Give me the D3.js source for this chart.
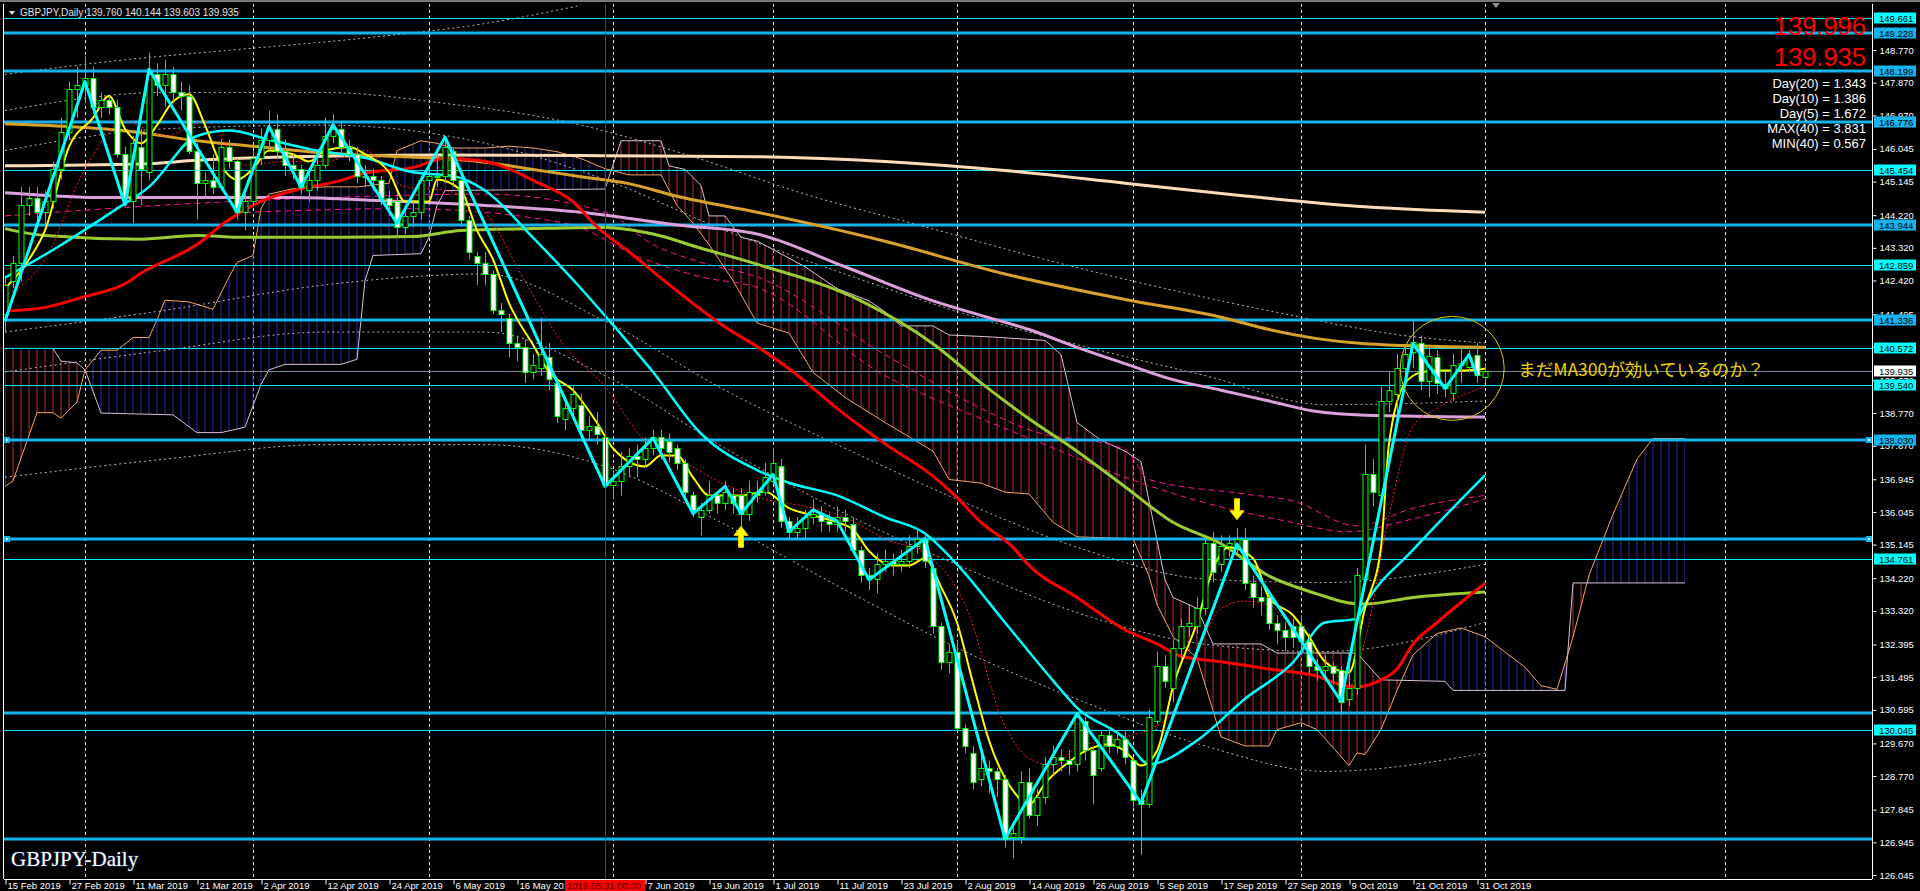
<!DOCTYPE html>
<html><head><meta charset="utf-8">
<script src="https://cdnjs.cloudflare.com/ajax/libs/d3/7.8.5/d3.min.js"></script>
<style>html,body{margin:0;padding:0;background:#000;overflow:hidden}</style>
</head><body>
<svg id="chart" width="1920" height="891"></svg>
<script>
// ---------- DATA ----------
const dateLabels = ["15 Feb 2019","27 Feb 2019","11 Mar 2019","21 Mar 2019","2 Apr 2019","12 Apr 2019","24 Apr 2019","6 May 2019","16 May 2019","28 May 2019","7 Jun 2019","19 Jun 2019","1 Jul 2019","11 Jul 2019","23 Jul 2019","2 Aug 2019","14 Aug 2019","26 Aug 2019","5 Sep 2019","17 Sep 2019","27 Sep 2019","9 Oct 2019","21 Oct 2019","31 Oct 2019"];
const dateTickBars = [0,8,16,24,32,40,48,56,64,72,80,88,96,104,112,120,128,136,144,152,160,168,176,184];
const monthGridBars = [10,31,53,76,96,119,141,162,185,215];
const markerBar = 75, markerLabel = "2019.05.31 00:00";
const priceTicks = [148.770,147.870,146.970,146.045,145.145,144.220,143.320,142.420,141.495,140.595,139.670,138.770,137.870,136.945,136.045,135.145,134.220,133.320,132.395,131.495,130.595,129.670,128.770,127.845,126.945,126.045];
const levelsThick = [149.228,148.199,146.776,143.944,141.336,138.030,135.29,130.52,127.05];
const levelsThickLabelled = [149.228,148.199,146.776,143.944,141.336,138.030];
const levelsThin = [149.661,145.454,142.859,140.572,139.540,134.761,130.045];
const selectedLevels = [138.030,135.29];
const lastPrice = 139.935;
const headerText = "GBPJPY,Daily";
const headerOHLC = "139.760 140.144 139.603 139.935";
const bigPrices = ["139.996","139.935"];
const statLines = ["Day(20) = 1.343","Day(10) = 1.386","Day(5) = 1.672","MAX(40) = 3.831","MIN(40) = 0.567"];
const noteText = "まだMA300が効いているのか？";

// OHLC per daily bar (bar 0 = 15 Feb 2019 ... bar 185 = 1 Nov 2019)
const ohlc = [
[141.5,142.5,141.0,142.3],[142.4,143.1,142.2,142.9],[142.9,145.0,142.4,144.5],[144.5,145.0,144.2,144.7],[144.7,145.0,144.0,144.3],
[144.3,144.9,143.9,144.6],[144.6,145.7,144.4,145.5],[145.5,146.9,145.2,146.5],[146.5,147.9,146.3,147.7],[147.7,148.3,146.9,147.8],
[147.8,148.6,147.3,148.0],[148.0,148.3,147.0,147.2],[147.2,147.6,146.9,147.4],[147.4,147.5,147.0,147.2],[147.2,147.4,145.8,145.9],
[145.9,146.1,144.5,144.7],[144.6,146.4,144.0,146.2],[146.1,146.6,144.5,145.5],[145.4,148.7,145.2,148.1],[148.1,148.4,147.5,147.8],
[147.8,148.5,147.2,148.1],[148.1,148.3,147.3,147.6],[147.6,147.9,147.1,147.5],[147.5,147.8,145.9,146.0],[146.0,146.2,144.1,145.1],
[145.1,145.4,144.7,145.2],[145.2,145.9,144.8,145.0],[145.0,146.3,144.9,146.1],[146.1,146.3,145.5,145.7],[145.7,145.8,144.1,144.3],
[144.3,144.8,143.8,144.6],[144.6,146.0,144.5,145.8],[145.8,146.6,145.6,146.3],[146.3,147.1,146.0,146.6],[146.6,147.0,145.8,146.0],
[146.0,146.3,145.3,145.6],[145.6,145.9,145.2,145.5],[145.5,145.6,144.8,145.0],[144.9,145.4,144.6,145.2],[145.2,145.9,144.9,145.6],
[145.6,146.9,145.5,146.4],[146.4,147.0,146.2,146.6],[146.6,146.8,145.9,146.1],[146.1,146.3,145.7,145.9],[145.9,146.1,145.1,145.3],
[145.3,145.6,145.0,145.3],[145.3,145.5,144.9,145.2],[145.2,145.3,144.5,144.7],[144.7,144.9,144.2,144.5],[144.6,144.8,143.6,143.9],
[143.9,144.5,143.7,144.2],[144.2,144.6,143.9,144.3],[144.3,145.3,144.1,145.2],[145.2,145.6,145.0,145.3],[145.3,145.9,145.0,145.3],
[145.3,146.4,145.1,146.1],[146.0,146.1,145.0,145.2],[145.2,145.3,143.9,144.1],[144.1,144.2,143.0,143.2],[143.1,143.2,142.3,142.9],
[142.9,143.2,142.3,142.6],[142.6,142.7,141.5,141.6],[141.6,141.8,141.0,141.5],[141.4,141.5,140.3,140.7],[140.7,140.9,140.2,140.6],
[140.6,140.8,139.6,139.9],[139.9,140.4,139.7,140.1],[140.0,141.4,139.8,140.4],[140.3,140.7,139.4,139.7],[139.6,139.7,138.5,138.7],
[138.6,139.1,138.3,138.9],[138.9,139.5,138.6,139.3],[139.0,139.3,138.1,138.3],[138.3,138.7,138.0,138.4],[138.4,138.8,137.9,138.2],
[138.1,138.2,136.6,136.8],[136.8,137.2,136.4,136.9],[136.9,137.7,136.5,137.3],[137.3,137.8,137.0,137.6],[137.6,137.9,137.0,137.5],
[137.5,138.1,137.3,137.8],[137.8,138.3,137.6,138.1],[138.1,138.3,137.5,137.8],[138.0,138.2,137.4,137.7],[137.8,137.9,137.2,137.4],
[137.4,137.5,136.4,136.6],[136.5,136.6,135.9,136.1],[135.9,136.3,135.4,136.1],[136.1,136.9,136.0,136.5],[136.5,136.6,136.0,136.3],
[136.3,136.9,136.1,136.6],[136.5,136.7,136.0,136.3],[136.5,136.7,135.5,136.0],[136.0,136.9,135.8,136.6],[136.6,136.9,136.3,136.5],
[136.6,137.4,136.5,137.0],[136.9,137.8,136.8,137.4],[137.3,137.5,135.6,135.8],[135.8,135.9,135.3,135.5],[135.5,135.9,135.3,135.6],
[135.6,136.1,135.3,135.9],[135.9,136.4,135.7,136.0],[136.0,136.2,135.5,135.8],[135.8,136.0,135.5,135.7],[135.7,136.2,135.5,135.9],
[135.9,136.1,135.5,135.8],[135.7,135.9,134.9,135.0],[135.0,135.1,134.1,134.3],[134.3,134.5,133.9,134.2],[134.2,134.9,133.8,134.6],
[134.6,135.0,134.4,134.7],[134.7,134.9,134.3,134.6],[134.6,135.0,134.4,134.7],[134.7,135.4,134.5,135.1],[135.1,135.6,134.9,135.3],
[135.3,135.5,134.5,134.7],[134.5,134.6,132.7,132.9],[132.9,133.0,131.7,131.9],[131.9,132.4,131.6,132.2],[132.2,132.5,130.0,130.1],
[130.1,130.2,129.4,129.6],[129.4,129.6,128.4,128.6],[128.7,129.4,128.5,129.0],[129.0,129.2,128.3,128.9],[128.9,129.0,128.2,128.7],
[128.7,128.8,126.8,127.05],[127.1,127.5,126.5,127.2],[127.1,128.9,126.9,128.6],[128.6,129.0,127.6,127.7],[127.7,128.4,127.4,128.2],
[128.2,129.3,128.0,129.1],[129.1,129.6,128.8,129.3],[129.3,129.5,128.9,129.2],[129.2,129.5,128.8,129.1],[129.1,130.5,128.9,130.4],
[130.3,130.4,129.2,129.5],[129.5,129.6,128.0,128.8],[129.0,130.0,128.9,129.9],[129.9,130.1,129.4,129.6],[129.6,130.0,129.4,129.8],
[129.8,130.0,129.1,129.3],[129.2,129.3,127.9,128.1],[128.1,128.4,126.6,128.0],[128.0,130.6,127.9,130.4],[130.3,132.2,130.2,131.8],
[131.8,132.1,131.2,131.4],[131.2,132.5,130.8,132.3],[132.3,133.1,132.0,132.9],[132.9,133.5,132.6,133.0],[132.9,133.7,132.7,133.4],
[133.4,135.3,133.2,135.2],[135.2,135.5,134.1,134.4],[134.6,135.4,134.4,135.1],[135.1,135.4,134.8,135.2],[135.1,135.6,134.9,135.3],
[135.3,135.6,133.9,134.1],[134.1,134.3,133.4,133.7],[133.7,134.0,133.2,133.6],[133.7,133.9,132.8,133.0],[133.0,133.2,132.4,132.8],
[132.8,133.0,132.2,132.6],[132.9,133.1,132.3,132.6],[132.9,133.2,132.1,132.5],[132.5,132.7,131.6,131.8],[131.8,132.0,131.4,131.7],
[131.7,132.1,131.4,131.8],[131.8,131.9,131.3,131.6],[131.7,131.8,130.45,130.8],[130.9,132.1,130.7,131.2],[131.2,134.5,131.0,134.3],
[134.2,137.9,134.0,137.1],[137.1,137.5,136.2,136.6],[136.5,139.5,136.3,139.1],[139.1,139.9,138.8,139.4],[139.3,140.4,138.6,140.0],
[140.0,140.6,139.7,140.4],[140.45,141.33,140.0,140.73],[140.7,140.9,139.4,139.65],[139.65,140.6,139.2,140.35],[140.3,140.5,139.3,139.6],
[139.56,139.9,139.2,139.45],[139.33,140.4,139.1,140.1],[140.1,140.6,139.6,140.15],[140.05,140.5,139.9,140.3],[140.37,140.7,139.6,139.82],
[139.76,140.144,139.603,139.935]
];

// indicator lines: [bar, price]
const maCyan = [[0,142.5],[7,143.4],[14,144.4],[18,145.0],[24,146.4],[28,146.55],[33,146.3],[39,146.0],[45,145.8],[51,145.4],[56,145.3],[60,144.9],[66,143.6],[72,142.2],[75,141.45],[81,139.9],[87,138.2],[94,137.2],[98,136.85],[104,136.5],[110,135.9],[115,135.45],[119,134.6],[125,133.0],[131,131.4],[134,130.65],[140,129.8],[143,129.1],[149,129.75],[155,130.9],[161,131.9],[165,133.0],[169,133.1],[170,133.5],[176,135.0],[185,137.05]];
const maYellow = [[0,142.2],[3,143.0],[5,143.8],[8,146.1],[11,146.9],[13,147.5],[15,146.6],[17,146.2],[19,146.7],[21,147.35],[23,147.55],[25,146.7],[27,145.6],[29,145.2],[31,145.5],[33,146.0],[36,145.9],[38,145.7],[40,146.0],[43,146.1],[45,145.9],[48,145.4],[50,144.6],[53,144.6],[54,145.2],[57,144.9],[59,143.8],[61,143.0],[63,141.8],[66,140.65],[68,139.9],[71,139.4],[74,138.5],[76,137.8],[80,137.3],[82,137.6],[84,137.6],[86,137.0],[88,136.5],[92,136.5],[95,136.6],[98,136.15],[101,135.95],[104,135.76],[106,135.56],[108,134.97],[111,134.57],[113,134.57],[115,134.77],[117,133.98],[119,133.0],[121,131.33],[123,129.75],[126,128.37],[128,127.98],[130,128.57],[133,129.16],[135,129.46],[138,129.65],[140,129.46],[142,129.06],[144,129.46],[146,131.23],[149,133.0],[151,134.48],[153,135.07],[156,134.77],[158,133.69],[161,133.2],[163,132.61],[165,131.92],[168,131.62],[170,133.39],[172,135.07],[173,137.92],[175,139.59],[177,139.89],[179,139.94],[182,139.94],[185,139.99]];
const maRed = [[0,141.58],[5,141.68],[10,141.98],[15,142.33],[17,142.62],[24,143.41],[28,144.1],[33,144.69],[36,144.89],[42,145.18],[45,145.38],[51,145.53],[55,145.78],[59,145.73],[62,145.58],[66,145.18],[71,144.59],[74,143.9],[78,143.21],[84,142.13],[90,141.14],[94,140.6],[98,139.99],[104,138.9],[110,137.92],[116,137.03],[119,136.44],[122,135.76],[126,135.07],[128,134.57],[134,133.69],[140,132.8],[144,132.41],[147,132.07],[152,131.92],[158,131.72],[164,131.52],[167,131.28],[169,131.23],[172,131.42],[174,131.72],[176,132.41],[179,133.0],[185,134.08]];
const maOrange = [[0,146.74],[8,146.66],[16,146.52],[24,146.27],[31,146.12],[38,145.97],[45,145.87],[53,145.8],[60,145.68],[66,145.48],[72,145.28],[78,145.09],[84,144.74],[94,144.3],[110,143.5],[125,142.6],[140,141.9],[152,141.41],[158,141.07],[164,140.82],[170,140.68],[185,140.58]];
const maPeach = [[0,145.58],[17,145.63],[24,145.73],[36,145.83],[54,145.88],[75,145.86],[94,145.83],[110,145.7],[125,145.45],[140,145.1],[155,144.75],[170,144.45],[185,144.3]];
const maPlum = [[0,144.84],[12,144.71],[24,144.71],[36,144.71],[48,144.61],[60,144.49],[72,144.3],[84,143.95],[94,143.7],[105,142.8],[116,141.86],[122,141.46],[128,141.07],[134,140.58],[140,140.13],[146,139.69],[152,139.4],[158,139.1],[164,138.81],[170,138.71],[185,138.66]];
const maYellowGreen = [[0,143.85],[5,143.66],[17,143.56],[24,143.66],[30,143.61],[42,143.61],[51,143.63],[57,143.8],[66,143.85],[75,143.88],[81,143.7],[87,143.31],[94,142.87],[107,141.86],[116,140.68],[122,139.6],[128,138.61],[134,137.72],[140,136.74],[146,135.76],[152,135.17],[158,134.28],[164,133.79],[168,133.54],[170,133.51],[176,133.69],[185,133.84]];
const zigzag = [[0,141.3],[10,147.9],[15,144.5],[18,148.24],[29,144.3],[33,146.66],[37,144.99],[41,146.71],[49,144.0],[55,146.37],[75,136.75],[81,138.08],[86,136.0],[90,136.75],[92,136.0],[96,137.08],[98,135.5],[101,136.1],[104,135.8],[108,134.18],[115,135.31],[125,127.04],[134,130.49],[142,128.03],[154,135.16],[167,130.83],[176,140.68],[180,139.45],[183,140.38],[184,139.79]];
const redDotted = [[0,142.0],[5,143.0],[10,145.5],[15,146.8],[20,146.4],[25,146.8],[30,145.6],[35,145.7],[40,145.7],[45,146.0],[50,145.0],[55,144.9],[60,144.3],[65,142.4],[70,140.6],[75,139.5],[80,138.0],[85,137.4],[90,136.8],[95,136.4],[100,136.2],[105,135.9],[110,135.3],[115,134.9],[120,133.5],[125,130.15],[128,129.26],[131,129.06],[134,129.55],[140,129.85],[143,130.05],[146,130.54],[150,132.7],[152,133.39],[155,133.59],[158,133.49],[162,132.51],[165,132.0],[168,131.23],[170,132.51],[173,135.95],[176,138.41],[179,138.9],[185,139.5]];
const pinkDash1 = [[0,144.2],[20,144.5],[40,144.7],[60,144.8],[75,144.3],[81,143.41],[87,142.92],[94,142.52],[110,140.38],[122,138.9],[128,138.31],[140,137.77],[143,136.94],[155,136.54],[161,136.35],[169,135.66],[176,136.15],[185,136.5]];
const pinkDash2 = [[30,144.3],[50,144.4],[70,144.0],[80,143.0],[87,142.52],[94,142.23],[110,139.8],[120,138.8],[130,137.9],[140,137.0],[150,136.3],[160,135.8],[168,135.5],[175,135.8],[185,136.4]];
const bandU3 = [[0,148.1],[15,148.5],[30,148.8],[45,149.1],[60,149.5],[72,150.0]];
const bandU2 = [[0,147.1],[20,147.6],[40,147.6],[55,147.3],[70,146.8],[85,145.9],[100,144.8],[115,143.9],[130,143.0],[145,142.2],[160,141.5],[175,140.9],[185,140.7]];
const bandU1 = [[0,146.0],[20,146.6],[40,146.7],[60,146.2],[75,145.2],[90,143.8],[105,142.6],[120,141.5],[135,140.6],[150,139.8],[165,139.0],[185,139.1]];
const bandL1 = [[0,141.0],[20,141.6],[40,142.3],[60,142.6],[75,141.3],[90,139.4],[105,137.8],[120,136.3],[135,135.0],[150,134.2],[165,134.1],[185,134.6]];
const bandL2 = [[0,139.9],[20,140.5],[40,141.0],[60,141.0],[75,139.8],[90,137.8],[105,136.0],[120,134.5],[135,133.2],[150,132.4],[165,132.2],[185,133.0]];
const bandL3 = [[0,137.0],[20,137.5],[40,137.9],[60,137.9],[75,137.3],[90,135.7],[105,133.9],[120,132.2],[135,130.8],[150,129.6],[165,128.9],[185,129.4]];
const spanA = [[0,136.75],[1,136.9],[4,138.78],[6,138.78],[7,138.63],[9,139.07],[10,139.96],[12,140.5],[14,140.5],[16,140.85],[18,140.85],[19,141.34],[20,141.88],[23,141.83],[26,141.63],[28,142.52],[29,142.92],[31,143.11],[32,144.4],[33,144.8],[36,144.95],[40,145.0],[44,145.0],[48,145.1],[49,146.0],[52,146.27],[54,146.2],[56,146.07],[60,146.07],[63,146.12],[66,146.07],[69,145.97],[72,145.78],[75,145.5],[78,145.33],[82,145.33],[84,144.49],[86,144.0],[88,143.41],[91,142.42],[94,141.25],[98,140.97],[101,139.89],[105,139.2],[110,138.51],[116,137.72],[118,136.94],[122,136.84],[125,136.59],[128,136.54],[131,135.76],[134,135.36],[141,135.31],[143,134.28],[144,133.49],[146,132.61],[149,132.02],[152,129.85],[155,129.6],[158,129.6],[159,130.05],[162,130.24],[164,130.05],[168,129.06],[169,129.41],[170,129.36],[172,130.05],[174,131.13],[176,132.11],[179,132.7],[182,132.85],[185,132.61],[187,132.27],[190,131.77],[192,131.26],[194,131.16],[196,132.6],[198,134.3],[201,135.98],[204,137.5],[206,138.07],[210,138.07]];
const spanB = [[0,140.55],[6,140.55],[7,140.2],[9,140.15],[10,139.96],[12,138.77],[21,138.72],[24,138.23],[27,138.23],[30,138.38],[32,139.56],[33,139.96],[35,140.11],[42,140.11],[44,140.25],[45,142.42],[46,143.11],[52,143.16],[53,143.61],[54,144.49],[55,144.9],[75,144.94],[76,145.6],[77,146.27],[82,146.27],[83,145.58],[85,145.48],[87,145.04],[88,144.2],[90,144.2],[92,143.61],[94,143.51],[100,142.8],[104,142.2],[108,141.86],[110,141.56],[112,141.17],[116,141.17],[118,140.92],[123,140.87],[130,140.77],[132,140.38],[134,138.51],[137,138.02],[140,137.72],[142,137.43],[143,136.35],[145,134.18],[146,133.69],[149,133.39],[151,132.41],[157,132.41],[159,132.16],[169,132.16],[172,131.42],[180,131.38],[181,131.13],[195,131.13],[196,134.09],[210,134.09]];
const arrowsUp = [[92,135.65]];
const arrowsDown = [[154,135.83]];
const noteCircle = [180.9,140.0];

// ---------- LAYOUT ----------
const L=4,R=1872,T=4,B=879;
const svg = d3.select('#chart');
const x = d3.scaleLinear().domain([0,185]).range([5,1485]);
const y = d3.scaleLinear().domain([126.045,148.770]).range([875,50]);
const FONT = "'Liberation Sans', Arial, sans-serif";
const defs = svg.append('defs');
defs.append('clipPath').attr('id','plot').append('rect').attr('x',L).attr('y',T).attr('width',R-L).attr('height',B-T);
function hatch(id,color){
  const p=defs.append('pattern').attr('id',id).attr('patternUnits','userSpaceOnUse').attr('width',8).attr('height',8).attr('x',x(0)-0.5).attr('y',0);
  p.append('line').attr('x1',0.5).attr('x2',0.5).attr('y1',0).attr('y2',8).attr('stroke',color).attr('stroke-width',1);
}
hatch('hBlue','#2b2ba8'); hatch('hRed','#b03030');

svg.append('rect').attr('width',1920).attr('height',891).attr('fill','#000');
svg.append('rect').attr('x',0).attr('y',0).attr('width',1920).attr('height',2).attr('fill','#7a7a7a');
const g = svg.append('g').attr('clip-path','url(#plot)');

// grid
g.selectAll('.vg').data(monthGridBars).join('line')
 .attr('x1',d=>Math.round(x(d))+0.5).attr('x2',d=>Math.round(x(d))+0.5).attr('y1',T).attr('y2',B)
 .attr('stroke','#e8e8e8').attr('stroke-dasharray','3,3').attr('stroke-width',1);

// ichimoku cloud
const lineG = d3.line().x(d=>x(d[0])).y(d=>y(d[1]));
const areaDown = d3.area().x(d=>x(d[0])).y0(B).y1(d=>y(d[1]));
const areaUp = d3.area().x(d=>x(d[0])).y0(T).y1(d=>y(d[1]));
defs.append('clipPath').attr('id','aboveB').append('path').attr('d',areaUp(spanB));
defs.append('clipPath').attr('id','aboveA').append('path').attr('d',areaUp(spanA));
g.append('g').attr('clip-path','url(#aboveB)').append('path').attr('d',areaDown(spanA)).attr('fill','url(#hBlue)');
g.append('g').attr('clip-path','url(#aboveA)').append('path').attr('d',areaDown(spanB)).attr('fill','url(#hRed)');
g.append('path').attr('d',lineG(spanA)).attr('fill','none').attr('stroke','#f4a460').attr('stroke-width',1);
g.append('path').attr('d',lineG(spanB)).attr('fill','none').attr('stroke','#d8bfd8').attr('stroke-width',1);

// bands
[bandU3,bandU2,bandU1,bandL1,bandL2,bandL3].forEach(b=>{
  g.append('path').attr('d',d3.line().x(d=>x(d[0])).y(d=>y(d[1])).curve(d3.curveMonotoneX)(b))
   .attr('fill','none').attr('stroke','#b8b8b8').attr('stroke-width',1).attr('stroke-dasharray','2,3');
});
[pinkDash1,pinkDash2].forEach(b=>{
  g.append('path').attr('d',d3.line().x(d=>x(d[0])).y(d=>y(d[1])).curve(d3.curveMonotoneX)(b))
   .attr('fill','none').attr('stroke','#ff1493').attr('stroke-width',1).attr('stroke-dasharray','6,4');
});

// level lines
g.selectAll('.lt').data(levelsThin).join('line').attr('x1',L).attr('x2',R)
 .attr('y1',d=>Math.round(y(d))+0.5).attr('y2',d=>Math.round(y(d))+0.5).attr('stroke','#00e4f4').attr('stroke-width',1);
g.append('line').attr('x1',L).attr('x2',R).attr('y1',Math.round(y(lastPrice))+0.5).attr('y2',Math.round(y(lastPrice))+0.5).attr('stroke','#778899');
g.selectAll('.lk').data(levelsThick).join('line').attr('x1',L).attr('x2',R)
 .attr('y1',d=>Math.round(y(d))).attr('y2',d=>Math.round(y(d))).attr('stroke','#14b4f0').attr('stroke-width',3);

// moving averages
const smooth = d3.line().x(d=>x(d[0])).y(d=>y(d[1])).curve(d3.curveMonotoneX);
function ma(data,color,w,dash){
  const p=g.append('path').attr('d',smooth(data)).attr('fill','none').attr('stroke',color).attr('stroke-width',w).attr('stroke-linejoin','round');
  if(dash) p.attr('stroke-dasharray',dash);
}
ma(maPeach,'#ffdcb8',3);
ma(maOrange,'#d9a12a',3);
ma(maPlum,'#dda0dd',3);
ma(maYellowGreen,'#9acd32',3);
ma(maRed,'#ff0000',3);
ma(redDotted,'#ff2020',1,'2,2');
ma(maCyan,'#00ffff',2.5);
ma(maYellow,'#ffff00',2);

// candles
const cg = g.append('g');
ohlc.forEach((b,i)=>{
  const [o,h,l,c]=b; const cx=Math.round(x(i))+0.5;
  cg.append('line').attr('x1',cx).attr('x2',cx).attr('y1',y(h)).attr('y2',y(l)).attr('stroke','#00ff00').attr('stroke-width',1);
  const top=Math.round(y(Math.max(o,c))), bot=Math.round(y(Math.min(o,c)));
  cg.append('rect').attr('x',cx-2.5).attr('y',top+0.5).attr('width',5).attr('height',Math.max(bot-top,1))
    .attr('fill',c>=o?'#000':'#fff').attr('stroke','#00ff00').attr('stroke-width',1);
});

// zigzag
g.append('path').attr('d',lineG(zigzag)).attr('fill','none').attr('stroke','#00ffff').attr('stroke-width',3).attr('stroke-linejoin','round');

// arrows
const upPath = "M0,0 L7,9 L2.5,9 L2.5,21 L-2.5,21 L-2.5,9 L-7,9 Z";
g.selectAll('.au').data(arrowsUp).join('path').attr('d',upPath)
 .attr('transform',d=>`translate(${x(d[0])},${y(d[1])})`).attr('fill','#ffff00').attr('stroke','#ffd000');
g.selectAll('.ad').data(arrowsDown).join('path').attr('d',upPath)
 .attr('transform',d=>`translate(${x(d[0])},${y(d[1])}) rotate(180)`).attr('fill','#ffff00').attr('stroke','#ffd000');

// marker vertical red line
g.append('line').attr('x1',Math.round(x(markerBar))+0.5).attr('x2',Math.round(x(markerBar))+0.5).attr('y1',T).attr('y2',B).attr('stroke','#ff0000');

// note circle & text
g.append('circle').attr('cx',x(noteCircle[0])).attr('cy',y(noteCircle[1])).attr('r',52).attr('fill','none').attr('stroke','#d8c800').attr('stroke-width',1);
svg.append('text').attr('x',x(noteCircle[0])+66).attr('y',y(noteCircle[1])+8).text(noteText)
 .attr('font-family',"'Noto Sans CJK JP', sans-serif").attr('font-size',17.5).attr('fill','#ecd000');

// selected markers
selectedLevels.forEach(v=>{
  [7,R-3].forEach(px=>{
    svg.append('rect').attr('x',px-3).attr('y',Math.round(y(v))-3).attr('width',6).attr('height',6).attr('fill','#14b4f0');
    svg.append('rect').attr('x',px-1).attr('y',Math.round(y(v))-1).attr('width',2).attr('height',2).attr('fill','#fff');
  });
});

// frame
svg.append('line').attr('x1',L-0.5).attr('x2',L-0.5).attr('y1',T).attr('y2',B).attr('stroke','#fff');
svg.append('line').attr('x1',L).attr('x2',R).attr('y1',B+0.5).attr('y2',B+0.5).attr('stroke','#fff');

// right axis
const ax = svg.append('g').attr('transform',`translate(${R+0.5},0)`)
  .call(d3.axisRight(y).tickValues(priceTicks).tickFormat(d3.format('.3f')).tickSize(4).tickPadding(3));
ax.select('.domain').attr('stroke','#fff').attr('d',`M0,${T}V${B}`);
ax.selectAll('line').attr('stroke','#fff');
ax.selectAll('text').attr('fill','#fff').attr('font-family',FONT).attr('font-size',9.5);

// level labels
function levelLabel(v,bg){
  const yy=Math.round(y(v));
  svg.append('rect').attr('x',R+2).attr('y',yy-5.5).attr('width',42).attr('height',11).attr('fill',bg);
  svg.append('text').attr('x',R+7).attr('y',yy+3.5).text(d3.format('.3f')(v)).attr('fill','#000')
    .attr('font-family',FONT).attr('font-size',9.5);
}
levelsThin.forEach(v=>levelLabel(v,'#00ffff'));
levelsThickLabelled.forEach(v=>levelLabel(v,'#14b4f0'));
levelLabel(lastPrice,'#ffffff');

// bottom axis
const boxL = Math.round(x(markerBar))-40, boxR = boxL+80;
const bx = svg.append('g').attr('transform',`translate(0,${B+0.5})`)
  .call(d3.axisBottom(x).tickValues(dateTickBars).tickFormat((d,i)=>dateLabels[i]).tickSize(5).tickPadding(1));
bx.select('.domain').remove();
bx.selectAll('line').attr('stroke','#fff').attr('transform','translate(0.5,0)');
bx.selectAll('text').attr('fill','#fff').attr('font-family',FONT).attr('font-size',9.5).attr('text-anchor','start')
  .attr('dx',2).attr('y',9).attr('dy',0);
bx.selectAll('.tick').filter(d=>x(d)>boxL && x(d)<boxR).remove();
// marker date box
svg.append('rect').attr('x',boxL).attr('y',B+1).attr('width',80).attr('height',11).attr('fill','#ff0000');
svg.append('text').attr('x',boxL+2).attr('y',B+9.5).text(markerLabel).attr('fill','#400000')
  .attr('font-family',FONT).attr('font-size',9.5);

// header
svg.append('path').attr('d','M9,11 L15,11 L12,15 Z').attr('fill','#e0e0e0');
svg.append('text').attr('x',20).attr('y',16).text(headerText+" "+headerOHLC).attr('fill','#e0e0e0').attr('font-family',FONT).attr('font-size',10);
svg.append('path').attr('d','M1492,3 L1500,3 L1496,8 Z').attr('fill','#909090');

// big prices & stats
bigPrices.forEach((t,i)=>{
  svg.append('text').attr('x',1866).attr('y',35+i*31).text(t).attr('text-anchor','end')
   .attr('fill','#ff0000').attr('font-family',FONT).attr('font-size',25.5);
});
statLines.forEach((t,i)=>{
  svg.append('text').attr('x',1866).attr('y',88+i*15).text(t).attr('text-anchor','end')
   .attr('fill','#fff').attr('font-family',FONT).attr('font-size',13);
});

// watermark
svg.append('text').attr('x',11).attr('y',866).text("GBPJPY-Daily").attr('fill','#fff')
  .attr('font-family',"'Liberation Serif','Times New Roman',serif").attr('font-size',21)
  .attr('style','paint-order:stroke').attr('stroke','#203060').attr('stroke-width',1.2);
</script>
</body></html>
